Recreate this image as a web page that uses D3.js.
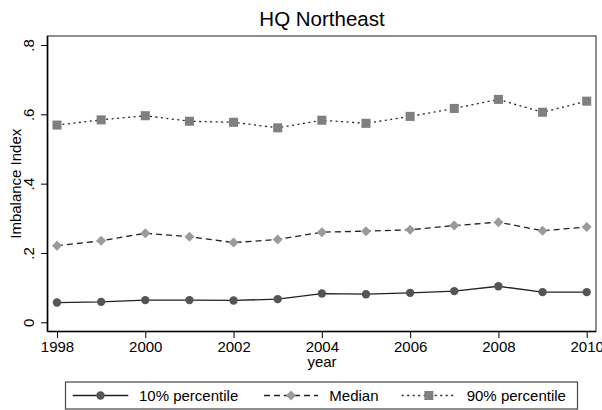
<!DOCTYPE html>
<html>
<head>
<meta charset="utf-8">
<script src="https://cdn.jsdelivr.net/npm/d3@7"></script>
<style>
  html, body { margin: 0; padding: 0; background: #fff; }
  svg { display: block; font-family: "Liberation Sans", Arial, sans-serif; }
</style>
</head>
<body>
<svg id="chart" width="602" height="410"></svg>
<script>
// Imbalance index by year, HQ Northeast
const years = [1998, 1999, 2000, 2001, 2002, 2003, 2004, 2005, 2006, 2007, 2008, 2009, 2010];
const p10 = [0.057, 0.059, 0.064, 0.064, 0.063, 0.067, 0.083, 0.081, 0.085, 0.090, 0.104, 0.087, 0.087];
const median = [0.221, 0.235, 0.257, 0.247, 0.230, 0.239, 0.260, 0.263, 0.267, 0.279, 0.289, 0.264, 0.275];
const p90 = [0.569, 0.584, 0.596, 0.580, 0.577, 0.561, 0.583, 0.574, 0.594, 0.617, 0.643, 0.606, 0.638];
const xTicks = [1998, 2000, 2002, 2004, 2006, 2008, 2010];
const yTicks = [0, 0.2, 0.4, 0.6, 0.8];
const yTickLabels = ["0", ".2", ".4", ".6", ".8"];
const seriesNames = ["10% percentile", "Median", "90% percentile"];

const svg = d3.select("#chart");
const box = { left: 47.5, right: 596, top: 36, bottom: 331.5 };

const x = d3.scaleLinear().domain([1998, 2010]).range([57, 586.7]);
const y = d3.scaleLinear().domain([0, 0.8]).range([322.3, 45]);

// frame
svg.append("rect")
  .attr("x", box.left).attr("y", box.top)
  .attr("width", box.right - box.left).attr("height", box.bottom - box.top)
  .attr("fill", "#fff").attr("stroke", "#444").attr("stroke-width", 1.2);

// axes
const xAxis = d3.axisBottom(x).tickValues(xTicks).tickFormat(d3.format("d")).tickSize(6.5).tickPadding(3);
const gx = svg.append("g").attr("transform", `translate(0,${box.bottom})`).call(xAxis);
gx.attr("font-family", null).attr("font-size", null);
gx.select(".domain").attr("d", `M${box.left},0H${box.right}`).attr("stroke", "#000").attr("stroke-width", 1.6);
gx.selectAll(".tick line").attr("stroke", "#000").attr("stroke-width", 1);
gx.selectAll(".tick text").attr("font-size", 15).attr("fill", "#000");

const yAxis = d3.axisLeft(y).tickValues(yTicks).tickFormat((d, i) => yTickLabels[i]).tickSize(6.5).tickPadding(4);
const gy = svg.append("g").attr("transform", `translate(${box.left},0)`).call(yAxis);
gy.attr("font-family", null).attr("font-size", null);
gy.select(".domain").attr("d", `M0,${box.top}V${box.bottom}`).attr("stroke", "#000").attr("stroke-width", 1.6);
gy.selectAll(".tick line").attr("stroke", "#000").attr("stroke-width", 1);
gy.selectAll(".tick text")
  .attr("font-size", 15).attr("fill", "#000")
  .attr("text-anchor", "middle").attr("dy", null)
  .attr("x", null)
  .attr("transform", "translate(-14,0) rotate(-90)");

// titles
svg.append("text").attr("x", 322).attr("y", 26).attr("text-anchor", "middle")
  .attr("font-size", 20.5).attr("fill", "#000").text("HQ Northeast");
svg.append("text").attr("x", 322).attr("y", 367).attr("text-anchor", "middle")
  .attr("font-size", 15).attr("fill", "#000").text("year");
svg.append("text").attr("transform", `translate(20.5,${(box.top + box.bottom) / 2}) rotate(-90)`)
  .attr("text-anchor", "middle").attr("font-size", 15).attr("fill", "#000").text("Imbalance Index");

// series
const series = [
  { name: seriesNames[0], values: p10, dash: null, marker: "circle", color: "#555555", line: "#222" },
  { name: seriesNames[1], values: median, dash: "6,4", marker: "diamond", color: "#9a9a9a", line: "#222" },
  { name: seriesNames[2], values: p90, dash: "2,3.5", marker: "square", color: "#7f7f7f", line: "#222" }
];

const lineGen = d3.line().x((d, i) => x(years[i])).y(d => y(d));
// square rotated 45 degrees, equal width and height
const diamondType = {
  draw(ctx, size) {
    const r = Math.sqrt(size / 2);
    ctx.moveTo(0, -r); ctx.lineTo(r, 0); ctx.lineTo(0, r); ctx.lineTo(-r, 0); ctx.closePath();
  }
};
const symbolFor = {
  circle: d3.symbol().type(d3.symbolCircle).size(Math.PI * 4.2 * 4.2),
  diamond: d3.symbol().type(diamondType).size(50),
  square: d3.symbol().type(d3.symbolSquare).size(82)
};

const plot = svg.append("g");
series.forEach(s => {
  plot.append("path").datum(s.values)
    .attr("d", lineGen).attr("fill", "none")
    .attr("stroke", s.line).attr("stroke-width", 1.3)
    .attr("stroke-dasharray", s.dash);
});
series.forEach(s => {
  plot.selectAll(null).data(s.values).enter().append("path")
    .attr("d", symbolFor[s.marker])
    .attr("transform", (d, i) => `translate(${x(years[i])},${y(d)})`)
    .attr("fill", s.color);
});

// legend
const legend = svg.append("g");
legend.append("rect").attr("x", 65.5).attr("y", 382).attr("width", 512).attr("height", 27)
  .attr("fill", "#fff").attr("stroke", "#444").attr("stroke-width", 1.2);
const legendPos = [
  { x0: 72.7, x1: 128.3, tx: 139 },
  { x0: 264, x1: 318, tx: 329.3 },
  { x0: 401.7, x1: 456, tx: 466.7 }
];
series.forEach((s, i) => {
  const p = legendPos[i];
  const ly = 395.5;
  legend.append("line").attr("x1", p.x0).attr("x2", p.x1).attr("y1", ly).attr("y2", ly)
    .attr("stroke", s.line).attr("stroke-width", 1.3).attr("stroke-dasharray", s.dash);
  legend.append("path").attr("d", symbolFor[s.marker])
    .attr("transform", `translate(${(p.x0 + p.x1) / 2},${ly})`).attr("fill", s.color);
  legend.append("text").attr("x", p.tx).attr("y", 400.8)
    .attr("font-size", 15).attr("fill", "#000").text(s.name);
});
</script>
</body>
</html>
